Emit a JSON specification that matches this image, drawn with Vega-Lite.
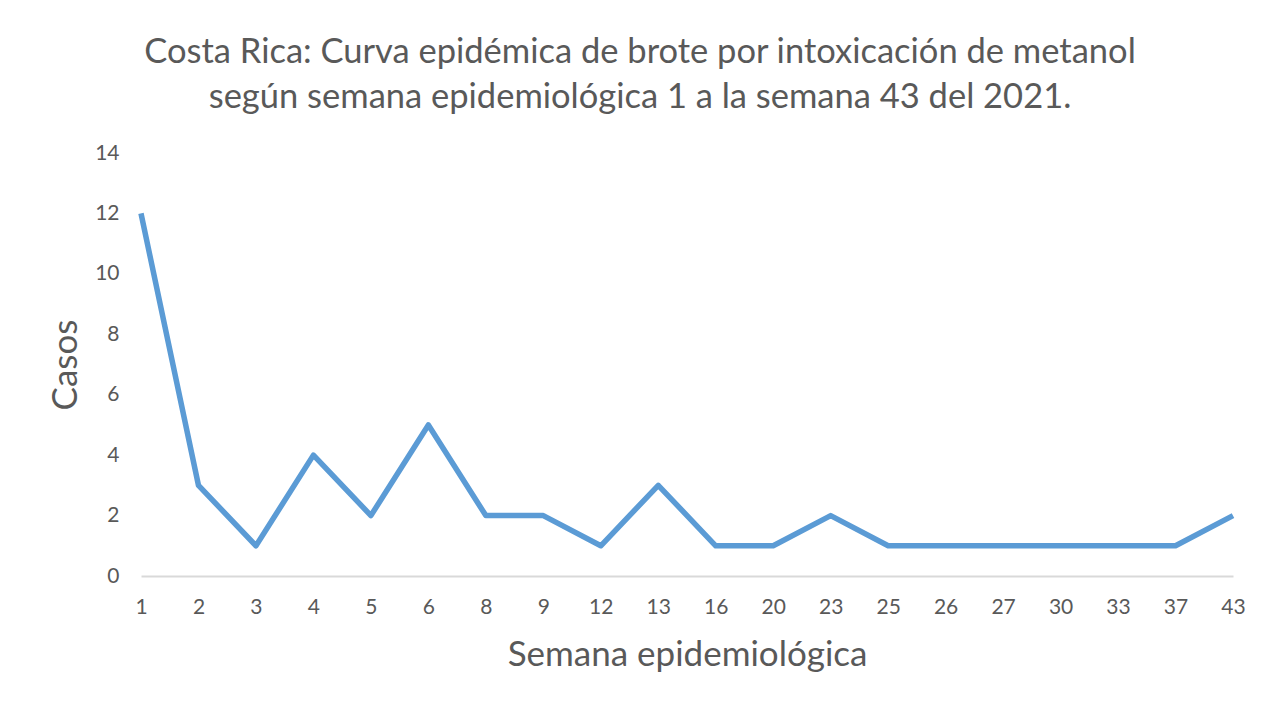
{
  "$schema": "https://vega.github.io/schema/vega-lite/v6.json",
  "width": 1092,
  "height": 423,
  "autosize": {"type": "none"},
  "padding": {"left": 141, "top": 153, "right": 47, "bottom": 126},
  "background": "white",
  "config": {
    "font": "Lato",
    "view": {"stroke": null},
    "axis": {"labelFont": "Lato", "titleFont": "Lato", "labelColor": "#595959", "titleColor": "#595959", "titleFontWeight": "normal", "grid": false, "ticks": false}
  },
  "title": {
    "text": ["Costa Rica: Curva epidémica de brote por intoxicación de metanol", "según semana epidemiológica 1 a la semana 43 del 2021."],
    "font": "Lato",
    "fontSize": 34.5,
    "fontWeight": "normal",
    "color": "#595959",
    "anchor": "middle",
    "dx": -47,
    "lineHeight": 45,
    "offset": 27
  },
  "data": {
    "values": [
      {"semana": "1", "casos": 12},
      {"semana": "2", "casos": 3},
      {"semana": "3", "casos": 1},
      {"semana": "4", "casos": 4},
      {"semana": "5", "casos": 2},
      {"semana": "6", "casos": 5},
      {"semana": "8", "casos": 2},
      {"semana": "9", "casos": 2},
      {"semana": "12", "casos": 1},
      {"semana": "13", "casos": 3},
      {"semana": "16", "casos": 1},
      {"semana": "20", "casos": 1},
      {"semana": "23", "casos": 2},
      {"semana": "25", "casos": 1},
      {"semana": "26", "casos": 1},
      {"semana": "27", "casos": 1},
      {"semana": "30", "casos": 1},
      {"semana": "33", "casos": 1},
      {"semana": "37", "casos": 1},
      {"semana": "43", "casos": 2}
    ]
  },
  "mark": {"type": "line", "color": "#5b9bd5", "strokeWidth": 5.5, "strokeJoin": "round"},
  "encoding": {
    "x": {
      "field": "semana",
      "type": "ordinal",
      "sort": null,
      "scale": {"type": "point", "padding": 0},
      "axis": {"title": "Semana epidemiológica", "titleFontSize": 35, "labelFontSize": 21, "labelAngle": 0, "labelPadding": 20, "titlePadding": 20, "domainColor": "#d9d9d9", "domainWidth": 2}
    },
    "y": {
      "field": "casos",
      "type": "quantitative",
      "scale": {"domain": [0, 14]},
      "axis": {"title": "Casos", "titleFontSize": 35, "labelFontSize": 21, "values": [0, 2, 4, 6, 8, 10, 12, 14], "labelPadding": 22, "titlePadding": 11, "domain": false}
    }
  }
}
